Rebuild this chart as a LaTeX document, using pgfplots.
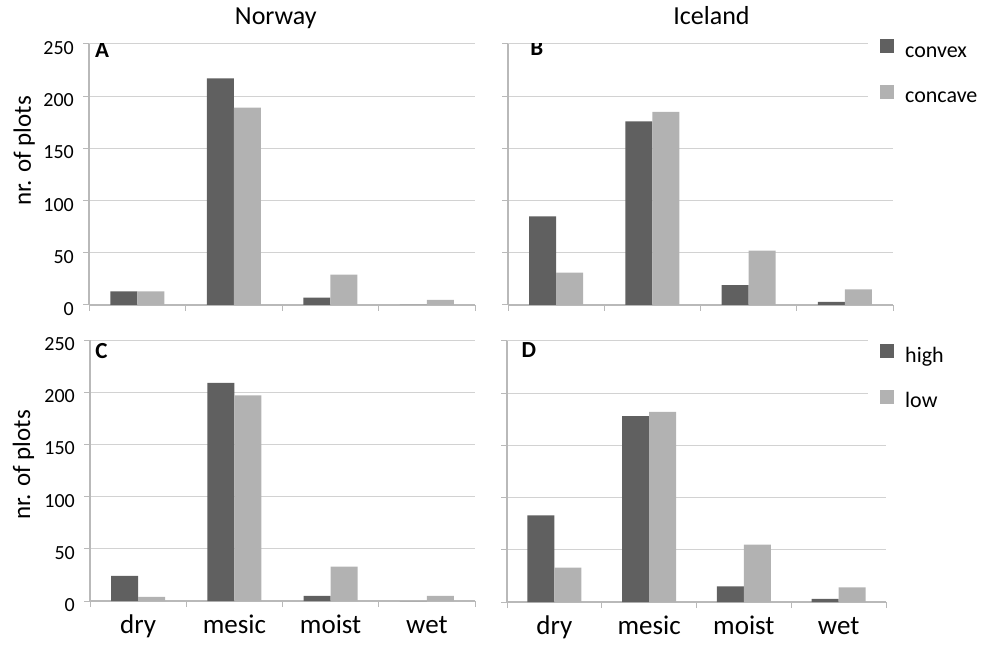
\documentclass[border=0pt]{standalone}
\usepackage{fontspec}
\setmainfont{Carlito}
\usepackage{pgfplots}
\pgfplotsset{compat=1.18}

\definecolor{barDark}{RGB}{96,96,96}
\definecolor{barLight}{RGB}{178,178,178}
\definecolor{gridGray}{RGB}{210,210,210}
\definecolor{axisGray}{RGB}{185,185,185}

\newcommand\panelletter[1]{{\fontsize{23}{26}\selectfont\bfseries #1}}

\pgfplotsset{
  panel/.style={
    scale only axis, height=261pt,
    ymin=0, ymax=250, xmin=0, xmax=4,
    ybar=0pt, bar width=27pt,
    axis lines=left,
    axis line style={-, draw=axisGray, line width=1.1pt},
    ymajorgrids, grid style={draw=gridGray, line width=1pt},
    tick align=outside, major tick length=6pt,
    tick style={draw=axisGray, line width=1pt},
    ytick={0,50,...,250},
    xtick={0,1,2,3,4}, xticklabels={},
    /pgf/number format/assume math mode=true,
    yticklabel style={font=\fontsize{20}{24}\selectfont, inner sep=0pt, anchor=east, xshift=-9pt, yshift=-4pt},
    extra x ticks={0.5,1.5,2.5,3.5},
    extra x tick style={major tick length=0pt,
      xticklabel style={font=\fontsize{27}{32}\selectfont, inner sep=0pt, anchor=base, yshift=-32pt}},
    legend style={draw=none, fill=white, inner xsep=12pt, inner ysep=4pt,
      row sep=14.5pt, column sep=11pt,
      nodes={inner sep=0pt, text height=13pt, text depth=13pt, font=\fontsize{22}{26}\selectfont}},
    legend cell align=left,
    title style={font=\fontsize{26}{30}\selectfont, anchor=base, inner sep=0pt},
    ylabel style={font=\fontsize{25}{30}\selectfont, anchor=center, inner sep=0pt},
  },
  darkbar/.style={fill=barDark, draw=none,
    legend image code/.code={\fill[barDark] (0pt,4pt) rectangle (14pt,18pt);}},
  lightbar/.style={fill=barLight, draw=none,
    legend image code/.code={\fill[barLight] (0pt,4pt) rectangle (14pt,18pt);}},
}

\begin{document}
\begin{tikzpicture}
\path[use as bounding box] (0pt,0pt) rectangle (987pt,645pt);

% Norway, convex vs concave
\begin{axis}[panel, at={(89pt,340pt)}, anchor=south west, width=386pt,
  extra x tick labels={},
  title={Norway}, title style={at={(axis description cs:0.484,1)}, yshift=13pt},
  ylabel={nr. of plots}, ylabel style={at={(axis description cs:-0.168,0.59)}}]
\addplot[darkbar] coordinates {(0.5,13) (1.5,217) (2.5,7) (3.5,0)};
\addplot[lightbar] coordinates {(0.5,13) (1.5,189) (2.5,29) (3.5,5)};
\node[inner sep=0pt] at (rel axis cs:0.034,0.977) {\panelletter{A}};
\end{axis}

% Iceland, convex vs concave
\begin{axis}[panel, at={(508pt,340pt)}, anchor=south west, width=385pt,
  extra x tick labels={}, yticklabels={},
  title={Iceland}, title style={at={(axis description cs:0.5286,1)}, yshift=13pt},
  legend style={at={(axis description cs:0.935,1.0345)}, anchor=north west}]
\addplot[darkbar] coordinates {(0.5,85) (1.5,176) (2.5,19) (3.5,3)};
\addplot[lightbar] coordinates {(0.5,31) (1.5,185) (2.5,52) (3.5,15)};
\legend{convex, concave}
\node[inner sep=0pt] at (rel axis cs:0.075,0.985) {\panelletter{B}};
\end{axis}

% Norway, high vs low
\begin{axis}[panel, at={(90pt,44pt)}, anchor=south west, width=385pt,
  extra x tick labels={dry,mesic,moist,wet},
  ylabel={nr. of plots}, ylabel style={at={(axis description cs:-0.173,0.521)}}]
\addplot[darkbar] coordinates {(0.5,24) (1.5,209) (2.5,5) (3.5,0)};
\addplot[lightbar] coordinates {(0.5,4) (1.5,197) (2.5,33) (3.5,5)};
\node[inner sep=0pt] at (rel axis cs:0.03,0.958) {\panelletter{C}};
\end{axis}

% Iceland, high vs low
\begin{axis}[panel, at={(507pt,43pt)}, anchor=south west, width=379pt,
  extra x tick labels={dry,mesic,moist,wet}, yticklabels={},
  legend style={at={(axis description cs:0.9525,1.004)}, anchor=north west}]
\addplot[darkbar] coordinates {(0.5,83) (1.5,178) (2.5,15) (3.5,3)};
\addplot[lightbar] coordinates {(0.5,33) (1.5,182) (2.5,55) (3.5,14)};
\legend{high, low}
\node[inner sep=0pt] at (rel axis cs:0.058,0.966) {\panelletter{D}};
\end{axis}
\end{tikzpicture}
\end{document}
